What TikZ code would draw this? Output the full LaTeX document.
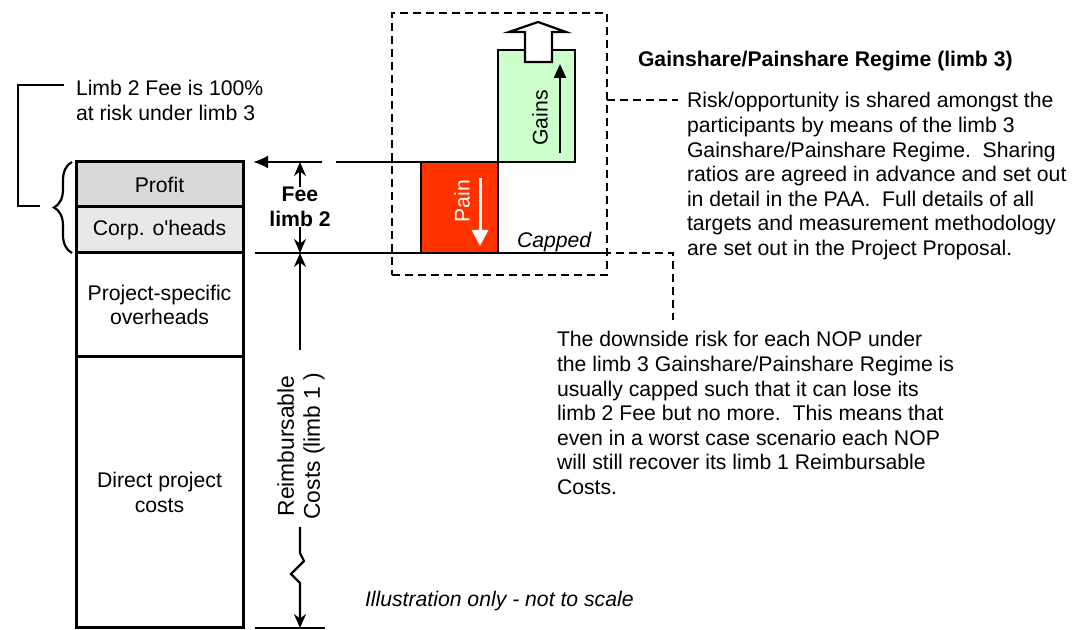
\documentclass[tikz,border=0pt]{standalone}
\usepackage{fontspec}
\setmainfont{Liberation Sans}
\usetikzlibrary{arrows.meta,decorations.pathreplacing}
\definecolor{painred}{HTML}{FF3300}
\definecolor{gainsgreen}{HTML}{CCFFCC}
\definecolor{profitgray}{HTML}{D9D9D9}
\definecolor{corpgray}{HTML}{E8E8E8}
\begin{document}
\begin{tikzpicture}[x=0.5pt,y=-0.5pt,
  every node/.style={font=\fontsize{10.6}{12.3}\selectfont, inner sep=0pt, outer sep=0pt},
  boldtext/.style={font=\fontsize{10.6}{12.3}\selectfont\bfseries},
  italictext/.style={font=\fontsize{10.6}{12.3}\selectfont\itshape},
  colbox/.style={draw, line width=1.5pt, minimum width=83.5pt, anchor=north west, align=center},
  thinline/.style={line width=1.2pt},
  dim/.style={line width=1.1pt, -{Stealth[length=7pt,width=6pt]}},
  dashline/.style={line width=1.2pt, dash pattern=on 4pt off 2.5pt},
  para/.style={anchor=north west, align=left},
  barbox/.style={draw, line width=1.2pt, minimum width=38.5pt},
]
\useasboundingbox (0,0) rectangle (1088,630);

% cost column
\node[colbox, fill=profitgray, minimum height=22.5pt] (profit) at (76,162) {Profit};
\node[colbox, fill=corpgray, minimum height=23pt] (corp) at (profit.south west) {Corp. o\textquotesingle heads};
\node[colbox, minimum height=52pt] (pso) at (corp.south west) {Project-specific\\overheads};
\node[colbox, minimum height=135.5pt] (dpc) at (pso.south west) {Direct project\\costs};

% brace and bracket
\draw[decorate, decoration={brace, amplitude=9pt}, line width=1.1pt] (72,253) -- (72,162);
\draw[thinline] (64,85) -- (18,85) -- (18,206) -- (40,206);
\node[para, font=\fontsize{10.6}{12.5}\selectfont] (limbnote) at (76,80) {Limb 2 Fee is 100\%\\at risk under limb 3};

% dashed regime box
\node[draw, dashline, minimum width=107.5pt, minimum height=131pt, anchor=north west] (regime) at (392,13) {};

% pain / gains bars
\node[barbox, fill=painred, minimum height=45.5pt, anchor=north west] (pain) at (421,162) {};
\node[barbox, fill=gainsgreen, minimum height=56pt, anchor=south west] (gains) at (pain.north east) {};
\draw[line width=1.1pt, fill=white] (525,62) -- (525,32) -- (509,32) -- (538,22) -- (566,32) -- (552,32) -- (552,62) -- cycle;
\node[rotate=90, text=white] (paintxt) at (462,201) {Pain};
\node[rotate=90] (gainstxt) at (540,118) {Gains};
\coordinate (pa1) at (480,178);
\coordinate (pa2) at (480,246);
\draw[white, line width=1.5pt, -{Triangle[length=8pt,width=8pt]}] (pa1) -- (pa2);
\coordinate (ga1) at (560,153);
\coordinate (ga2) at (560,64);
\draw[line width=1.1pt, -{Triangle[length=7pt,width=6pt]}] (ga1) -- (ga2);
\node[anchor=base west, italictext] (capped) at (517,248) {Capped};

% horizontal lines
\coordinate (arrtail) at (322,162);
\draw[line width=1.2pt, -{Latex[length=7.5pt,width=6.5pt]}] (arrtail) -- ([xshift=5pt]profit.north east);
\coordinate (toplinestart) at (336,162);
\draw[thinline] (toplinestart) -- (pain.north west);
\coordinate (bl1) at (255,253);
\coordinate (bl2) at (603,253);
\draw[thinline] (bl1) -- (bl2);
\coordinate (bb1) at (255,628);
\coordinate (bb2) at (325,628);
\draw[thinline] (bb1) -- (bb2);

% fee dimension
\node[boldtext, align=center] (fee) at (300,207) {Fee\\limb 2};
\draw[dim] (fee.north) -- (fee.north |- profit.north);
\draw[dim] (fee.south) -- (fee.south |- bl1);

% reimbursable dimension
\node[rotate=90, align=center, font=\fontsize{11.4}{13}\selectfont] (rc) at (301,446) {Reimbursable\\Costs (limb 1 )};
\coordinate (rctop) at (300,350);
\coordinate (rcbotstart) at (300,527);
\draw[dim] (rctop) -- (rctop |- bl1);
\draw[dim] (rcbotstart) -- (300,553) -- (304,561) -- (291,574) -- (300,583) -- (rcbotstart |- bb1);

% right-hand texts
\node[anchor=base west, boldtext] (title) at (638,67) {Gainshare/Painshare Regime (limb 3)};
\node[para] (risk) at (687,92.5) {Risk/opportunity is shared amongst the\\participants by means of the limb 3\\Gainshare/Painshare Regime.\ \ Sharing\\ratios are agreed in advance and set out\\in detail in the PAA.\ \ Full details of all\\targets and measurement methodology\\are set out in the Project Proposal.};
\coordinate (riskleft) at (678,100);
\draw[dashline] (riskleft -| regime.east) -- (riskleft);

\coordinate (downtop) at (673,320);
\draw[dashline] (bl2) -- (bl2 -| downtop) -- (downtop);
\node[para] (downside) at (557,331.5) {The downside risk for each NOP under\\the limb 3 Gainshare/Painshare Regime is\\usually capped such that it can lose its\\limb 2 Fee but no more.\ \ This means that\\even in a worst case scenario each NOP\\will still recover its limb 1 Reimbursable\\Costs.};

\node[anchor=base west, italictext] (illus) at (365,607) {Illustration only - not to scale};
\end{tikzpicture}
\end{document}
